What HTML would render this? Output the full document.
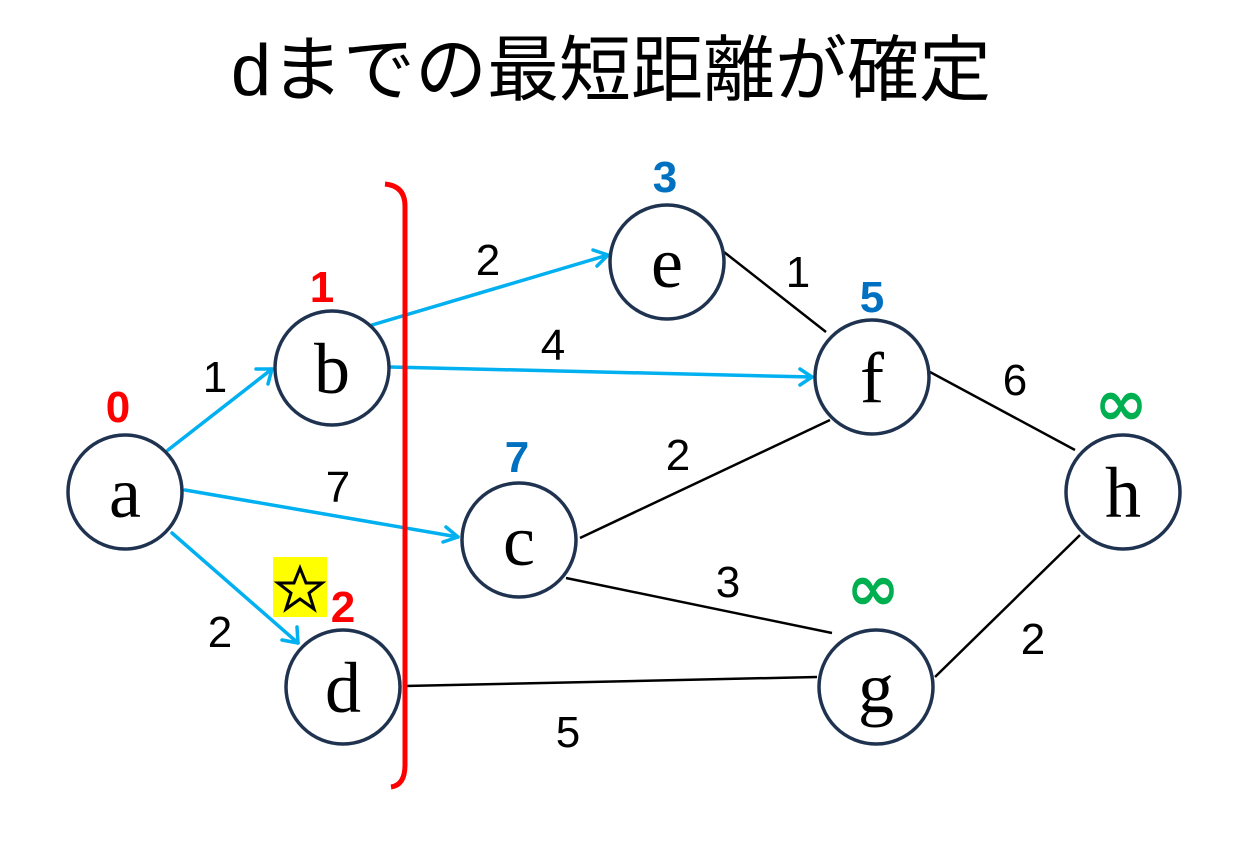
<!DOCTYPE html>
<html><head><meta charset="utf-8"><style>
html,body{margin:0;padding:0;background:#fff;}
svg{display:block;}
</style></head><body>
<svg width="1257" height="858" viewBox="0 0 1257 858" xmlns="http://www.w3.org/2000/svg">
<text x="611" y="95" font-family="Liberation Sans, Noto Sans CJK JP, sans-serif" font-size="72" text-anchor="middle" fill="#000">dまでの最短距離が確定</text>

<g stroke="#000" stroke-width="2.5" fill="none">
<line x1="724" y1="252" x2="826" y2="332"/>
<line x1="580" y1="538" x2="830" y2="420"/>
<line x1="566" y1="578" x2="832" y2="633"/>
<line x1="405" y1="686" x2="817" y2="677"/>
<line x1="930" y1="372" x2="1075" y2="450"/>
<line x1="935" y1="677" x2="1080" y2="535"/>
</g>

<g stroke="#00b0f0" stroke-width="3.5" fill="none" stroke-linecap="round" stroke-linejoin="round">
<line x1="168" y1="450" x2="272" y2="369"/>
<polyline points="256,369 272,369 268,384"/>
<line x1="185" y1="490" x2="458" y2="537"/>
<polyline points="446,527 458,537 443,542"/>
<line x1="172" y1="533" x2="298" y2="643"/>
<polyline points="297,627 298,643 282,640"/>
<line x1="372" y1="325" x2="608" y2="255"/>
<polyline points="593,250 608,255 597,266"/>
<line x1="390" y1="367" x2="812" y2="377"/>
<polyline points="800,369 812,377 800,385"/>
</g>

<g stroke="#1f3350" stroke-width="3.5" fill="#fff">
<circle cx="125" cy="492" r="57"/>
<circle cx="332" cy="368" r="57"/>
<circle cx="667" cy="262" r="57"/>
<circle cx="872" cy="377" r="57"/>
<circle cx="519" cy="540" r="57"/>
<circle cx="1123" cy="492" r="57"/>
<circle cx="343" cy="687" r="57"/>
<circle cx="876" cy="687" r="57"/>
</g>
<g font-family="Liberation Serif, serif" font-size="72" text-anchor="middle" fill="#000">
<text x="125" y="517">a</text>
<text x="332" y="393">b</text>
<text x="667" y="287">e</text>
<text x="872" y="402">f</text>
<text x="519" y="565">c</text>
<text x="1123" y="517">h</text>
<text x="343" y="712">d</text>
<text x="876" y="712">g</text>
</g>

<path d="M385,184 Q405,186 405,206 L405,765 Q405,785 391,787" stroke="#ff0000" stroke-width="5" fill="none"/>

<rect x="273" y="557" width="54" height="60" fill="#ffff00"/>
<polygon points="300,568 306,583 322,583 309,593 314,609 300,599 286,609 291,593 278,583 294,583" fill="none" stroke="#000" stroke-width="3" stroke-linejoin="miter"/>

<g font-family="Liberation Sans, sans-serif" font-size="44" text-anchor="middle" fill="#000">
<text x="215" y="392">1</text>
<text x="338" y="502">7</text>
<text x="220" y="647">2</text>
<text x="488" y="275">2</text>
<text x="553" y="360">4</text>
<text x="798" y="287">1</text>
<text x="678" y="470">2</text>
<text x="728" y="597">3</text>
<text x="568" y="747">5</text>
<text x="1015" y="395">6</text>
<text x="1033" y="654">2</text>
</g>
<g font-family="Liberation Sans, sans-serif" font-size="44" font-weight="bold" text-anchor="middle">
<text x="118" y="422" fill="#ff0000">0</text>
<text x="322" y="302" fill="#ff0000">1</text>
<text x="343" y="622" fill="#ff0000">2</text>
<text x="665" y="192" fill="#0070c0">3</text>
<text x="872" y="312" fill="#0070c0">5</text>
<text x="517" y="472" fill="#0070c0">7</text>
</g>
<g font-family="DejaVu Sans, sans-serif" font-size="64" font-weight="bold" text-anchor="middle" fill="#00b050">
<text x="1121" y="425">∞</text>
<text x="873" y="610">∞</text>
</g>
</svg>
</body></html>
